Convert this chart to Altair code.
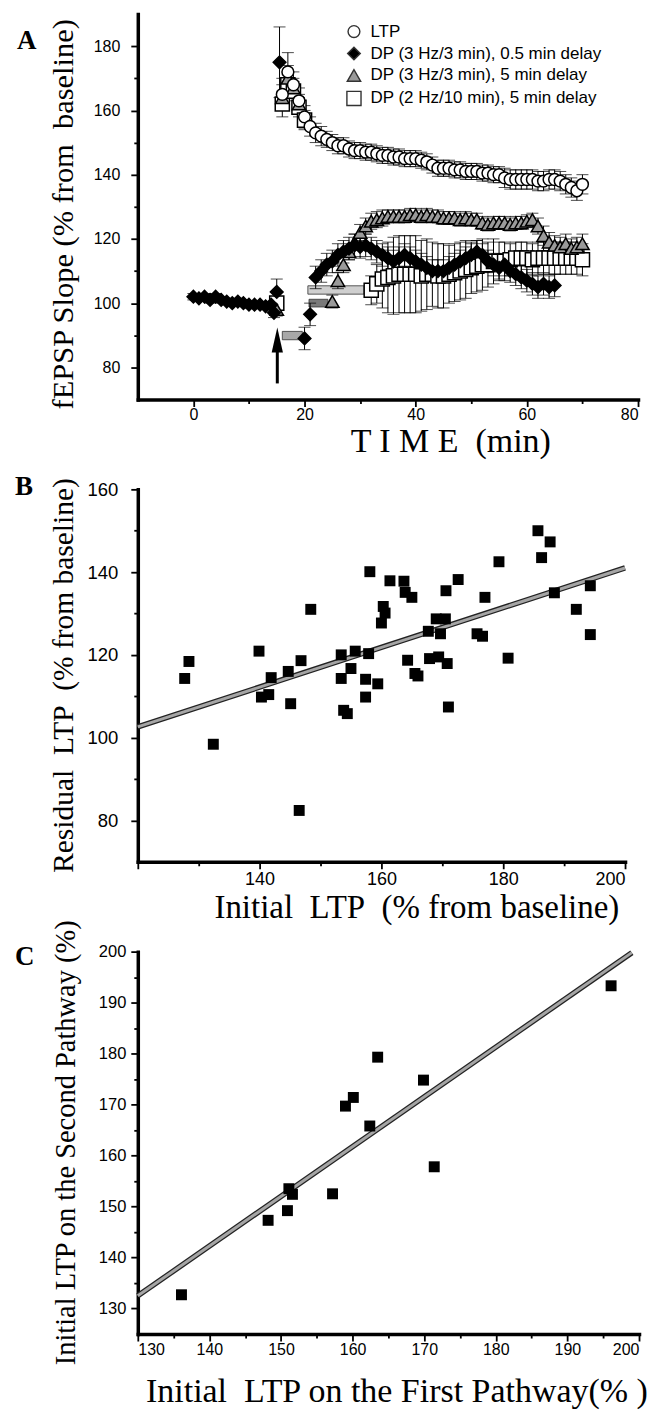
import altair as alt
import pandas as pd

# ---------------- Panel A data ----------------
SERIES = ["LTP", "DP (3 Hz/3 min), 0.5 min delay", "DP (3 Hz/3 min), 5 min delay", "DP (2 Hz/10 min), 5 min delay"]
SHAPES = ["circle", "diamond", "triangle-up", "square"]
FILLS = ["white", "black", "#9a9a9a", "white"]
SIZES = [140, 200, 150, 120]

LTP_T = list(range(16, 71))
LTP_V = [165, 172, 168, 163, 158, 155, 153, 152, 151, 150,
         149, 149, 148, 147.5, 147.5, 147, 147, 146.5, 146, 146,
         145.5, 145.5, 145, 145, 145, 144.5, 144, 143, 142, 142,
         142, 141.5, 141.5, 141, 141, 141, 140.5, 140.5, 140, 140,
         139, 138.5, 138.5, 138.5, 138.5, 138.5, 138, 138, 138.5, 138.5,
         138, 137, 136, 135, 137]
LTP_E = [5, 6, 4, 4, 3.5, 3, 3, 3, 2.5, 2.5,
         2.5, 2.5, 2.5, 2.5, 2.5, 2.5, 2.5, 2.5, 2.5, 2.5,
         2.5, 2.5, 2.5, 2.5, 2.5, 2.5, 2.5, 2.5, 2.5, 2.5,
         2.5, 2.5, 2.5, 2.5, 2.5, 2.5, 2.5, 2.5, 2.5, 2.5,
         3, 3, 3, 3, 3, 3, 3, 3, 3, 3,
         3, 3, 3, 3, 3]

DPA_T = [0, 1, 2, 3, 4, 5, 6, 7, 8, 9, 10, 11, 12, 13, 14, 14.5, 15, 15.5] + list(range(20, 66))
DPA_V = [102, 101.5, 102, 101, 102, 101, 100.5, 100, 100.5, 100, 99.5, 99.5, 99.5, 99, 99.5, 97, 103.5, 175,
         89, 96.5, 108, 110, 112, 113, 115, 116, 117, 118,
         117.5, 118, 117, 116, 115, 114, 113, 114, 115, 114,
         113, 112, 111, 110, 110, 110, 111, 112, 113, 114,
         115, 116, 115, 113, 112, 111, 112, 110, 109, 108,
         107, 106, 105, 106, 105, 105.5]
DPA_E = [1, 1, 1, 1, 1, 1, 1, 1, 1, 1, 1, 1, 1, 1, 1, 1.5, 4, 11,
         3.5, 3.5, 3.5, 3.5, 3.5, 3.5, 3.5, 3.5, 3.5, 3.5,
         3.5, 3.5, 3.5, 3.5, 3.5, 3.5, 3.5, 3.5, 3.5, 3.5,
         3.5, 3.5, 3.5, 3.5, 3.5, 3.5, 3.5, 3.5, 3.5, 3.5,
         3.5, 3.5, 3.5, 3.5, 3.5, 3.5, 3.5, 3.5, 3.5, 3.5,
         3.5, 3.5, 3.5, 3.5, 3.5, 3.5]

DPB_T = [15, 16, 17, 18, 19] + list(range(25, 71))
DPB_V = [98, 164, 170, 167, 162,
         100.5, 107, 112, 116, 119, 122, 124, 125.5, 126, 126.5,
         127, 127, 127, 127, 127.5, 127.5, 127, 127.5, 127, 127,
         126.5, 126.5, 126.5, 126, 126.5, 126, 126, 125, 124.5, 125,
         125, 125, 124.5, 125, 125, 125.5, 126, 124, 121, 119,
         118, 117.5, 118.5, 117, 117.5, 118.5]
DPB_E = [2, 4, 4, 3, 3,
         2, 2.5, 2.5, 2.5, 2.5, 2.5, 2.5, 2.5, 2.5, 2.5,
         2, 2, 2, 2, 2, 2, 2, 2, 2, 2,
         2, 2, 2, 2, 2, 2, 2, 2, 2, 2,
         2, 2, 2, 2, 2, 2, 2, 2.5, 3, 3,
         3, 3, 3, 3, 3, 3]

DPC_T = [15, 16, 17, 18, 19, 20] + list(range(32, 71))
DPC_V = [100, 162, 168, 166, 161, 157,
         104, 106, 107.5, 108, 108.5, 109, 109, 109, 109, 108.5,
         109, 109, 108.5, 108.5, 109, 109.5, 110, 110.5, 111, 111.5,
         112, 112, 113, 113, 113, 113.5, 114, 114, 114, 113.5,
         114, 114, 114, 114, 114, 114, 114, 114, 113.5]
DPC_E = [2, 4, 4, 3, 3, 3,
         4.5, 6, 9, 11, 12, 12, 12, 12, 12, 11,
         11, 10, 10, 10, 9, 9, 9, 9, 8, 8,
         8, 7, 7, 6, 6, 5, 5, 5, 5, 5,
         5, 5, 5, 5, 5, 5, 5, 5, 5]

# stimulation bars (start, end, low, high) and colours
BAR_T0 = [16, 20.8, 20.6]
BAR_T1 = [19.6, 24.2, 30.7]
BAR_LO = [88.6, 98.8, 102.8]
BAR_HI = [91.2, 101.2, 105.4]
BAR_FILL = ["#a8a8a8", "#7a7a7a", "#cfcfcf"]

# tetanus arrow
ARROW_T = [15.1]
ARROW_BOTTOM = [75]
ARROW_NECK = [86]
ARROW_HEAD = [88.5]

# ---------------- Panel B data ----------------
B_X = [127.7, 128.4, 132.4, 139.9, 140.3, 141.5, 141.9, 144.7, 145.1, 146.8,
       146.5, 148.4, 153.4, 153.4, 153.8, 154.4, 155.0, 155.7, 157.4, 157.4,
       157.9, 158.1, 159.4, 160.0, 160.3, 160.6, 161.4, 163.7, 163.9, 164.3,
       165.0, 165.5, 166.0, 167.7, 167.9, 169.0, 169.4, 169.7, 170.5, 170.6,
       170.8, 171.0, 172.6, 175.7, 176.6, 177.0, 179.3, 180.8, 185.7, 186.3,
       187.7, 188.4, 192.0, 194.3, 194.3]
B_Y = [114.3, 118.4, 98.4, 120.9, 109.8, 110.4, 114.5, 116.0, 108.2, 118.6,
       82.4, 131.0, 120.0, 114.3, 106.6, 105.8, 116.7, 120.9, 114.1, 109.8,
       120.3, 140.1, 113.0, 127.7, 131.7, 130.1, 137.9, 137.8, 135.1, 118.7,
       133.9, 115.5, 114.9, 125.7, 119.1, 128.7, 119.5, 125.1, 128.7, 135.5,
       117.9, 107.4, 138.2, 125.1, 124.5, 133.9, 142.5, 119.2, 150.0, 143.5,
       147.3, 135.0, 131.0, 136.7, 124.9]
B_FIT_X = [120, 200]
B_FIT_Y = [102.6, 141.0]

# ---------------- Panel C data ----------------
C_X = [136.1, 148.2, 150.9, 151.1, 151.6, 157.2, 159.0, 160.1, 162.4, 163.5, 169.9, 171.4, 196.1]
C_Y = [132.7, 147.3, 149.2, 153.5, 152.4, 152.5, 169.7, 171.4, 165.8, 179.3, 174.8, 157.8, 193.3]
C_FIT_X = [130, 199]
C_FIT_Y = [132.5, 199.8]

PANEL_LABELS = ["A", "B", "C"]
NB = "\u00a0"
TITLE_A_X = "T I M E" + NB + " (min)"
TITLE_A_Y = "fEPSP Slope (% from" + NB + " baseline)"
TITLE_B_X = "Initial" + NB + " LTP" + NB + " (% from baseline)"
TITLE_B_Y = "Residual" + NB + " LTP" + NB + " (% from baseline)"
TITLE_C_X = "Initial" + NB + " LTP on the First Pathway(%" + NB + ")"
TITLE_C_Y = "Initial LTP on the Second Pathway (%)"

SERIF = "Liberation Serif"
SANS = "Liberation Sans"


def ax(values, major, title, title_size, title_x, title_y, label_size=16, label_pad=3, extra="", left=False):
    test = "datum.value % " + str(major) + " === 0"
    lbl = test + (" && " + extra if extra else "")
    return alt.Axis(values=values, labelExpr="(" + lbl + ") ? datum.label : ''",
                    tickSize={"condition": {"test": test, "value": 7}, "value": 4},
                    title=title, titleFontSize=title_size, titleX=title_x, titleY=title_y,
                    titleAlign="center", titleBaseline="alphabetic",
                    titleAngle=270 if left else 0,
                    labelFontSize=label_size, labelPadding=label_pad)


def label_layer(text, x, y):
    return alt.Chart(pd.DataFrame({"label": [text]})).mark_text(
        font=SERIF, fontWeight="bold", fontSize=27, align="left", baseline="middle", color="black"
    ).encode(x=alt.value(x), y=alt.value(y), text="label:N")


# ---------------- Panel A ----------------
rows = []
for name, T, V, E in [(SERIES[3], DPC_T, DPC_V, DPC_E), (SERIES[2], DPB_T, DPB_V, DPB_E),
                      (SERIES[1], DPA_T, DPA_V, DPA_E), (SERIES[0], LTP_T, LTP_V, LTP_E)]:
    for t, v, e in zip(T, V, E):
        rows.append({"series": name, "t": t, "v": v, "lo": v - e, "hi": v + e})
dfA = pd.DataFrame(rows)
dfA["idx"] = range(len(dfA))
dfBars = pd.DataFrame({"t0": BAR_T0, "t1": BAR_T1, "lo": BAR_LO, "hi": BAR_HI, "fill": BAR_FILL})
dfArrow = pd.DataFrame({"t": ARROW_T, "b": ARROW_BOTTOM, "n": ARROW_NECK, "h": ARROW_HEAD})

AXA_X = ax(list(range(0, 81, 10)), 20, TITLE_A_X, 34, 313, 52, label_size=16, label_pad=0)
AXA_Y = ax(list(range(80, 181, 10)), 20, TITLE_A_Y, 30.5, -65, 200, label_size=16, label_pad=11, left=True)
XS_A = alt.Scale(domain=[-10, 80], nice=False, zero=False)
YS_A = alt.Scale(domain=[70, 190], nice=False, zero=False)


def XA(f):
    return alt.X(f, type="quantitative", scale=XS_A, axis=AXA_X)


def YA(f):
    return alt.Y(f, type="quantitative", scale=YS_A, axis=AXA_Y)


LEG = alt.Legend(orient="none", legendX=208, legendY=9, title=None,
                 labelFont=SANS, labelFontSize=17, labelColor="black", labelLimit=0,
                 symbolSize=150, symbolStrokeWidth=1.4, symbolStrokeColor="black",
                 rowPadding=3, labelOffset=8)

baseA = alt.Chart(dfA)
errA = baseA.mark_rule(color="black", strokeWidth=1).encode(x=XA("t"), y=YA("lo"), y2="hi:Q")
capLo = baseA.mark_tick(color="black", thickness=1, size=12, orient="horizontal").encode(x=XA("t"), y=YA("lo"))
capHi = baseA.mark_tick(color="black", thickness=1, size=12, orient="horizontal").encode(x=XA("t"), y=YA("hi"))
ptsA = baseA.mark_point(filled=True, opacity=1, strokeWidth=1.5).encode(
    x=XA("t"), y=YA("v"),
    shape=alt.Shape("series:N", scale=alt.Scale(domain=SERIES, range=SHAPES), legend=LEG),
    fill=alt.Fill("series:N", scale=alt.Scale(domain=SERIES, range=FILLS), legend=LEG),
    size=alt.Size("series:N", scale=alt.Scale(domain=SERIES, range=SIZES), legend=None),
    stroke=alt.value("black"),
    order=alt.Order("idx:Q"),
)
barsA = alt.Chart(dfBars).mark_rect(stroke="#333", strokeWidth=0.8).encode(
    x=XA("t0"), x2="t1:Q", y=YA("lo"), y2="hi:Q", fill=alt.Fill("fill:N", scale=None))
shaft = alt.Chart(dfArrow).mark_rule(color="black", strokeWidth=3).encode(x=XA("t"), y=YA("b"), y2="n:Q")
head = alt.Chart(dfArrow).mark_point(filled=True, color="black", opacity=1,
                                     shape="M0,-1L0.45,1L-0.45,1Z", size=625).encode(x=XA("t"), y=YA("h"))

panelA = alt.layer(barsA, errA, capLo, capHi, ptsA, shaft, head, label_layer(PANEL_LABELS[0], -121, 27)).properties(
    width=501, height=386)

# ---------------- Panel B ----------------
dfB = pd.DataFrame({"x": B_X, "y": B_Y})
dfBfit = pd.DataFrame({"x": B_FIT_X, "y": B_FIT_Y})
AXB_X = ax(list(range(120, 201, 10)), 20, TITLE_B_X, 33, 279, 56, label_size=18, label_pad=2,
           extra="datum.value > 120")
AXB_Y = ax(list(range(80, 161, 10)), 20, TITLE_B_Y, 29.5, -65, 186, label_size=18.5, label_pad=13, left=True)
XS_B = alt.Scale(domain=[120, 200], nice=False, zero=False)
YS_B = alt.Scale(domain=[70, 160], nice=False, zero=False)
fitB1 = alt.Chart(dfBfit).mark_line(color="#222", strokeWidth=5.5).encode(
    x=alt.X("x:Q", scale=XS_B, axis=AXB_X), y=alt.Y("y:Q", scale=YS_B, axis=AXB_Y))
fitB2 = alt.Chart(dfBfit).mark_line(color="#a5a5a5", strokeWidth=3).encode(
    x=alt.X("x:Q", scale=XS_B, axis=AXB_X), y=alt.Y("y:Q", scale=YS_B, axis=AXB_Y))
ptsB = alt.Chart(dfB).mark_point(shape="square", filled=True, color="black", opacity=1, size=120).encode(
    x=alt.X("x:Q", scale=XS_B, axis=AXB_X), y=alt.Y("y:Q", scale=YS_B, axis=AXB_Y))
panelB = alt.layer(fitB1, fitB2, ptsB, label_layer(PANEL_LABELS[1], -123, -2)).properties(width=488, height=373)

# ---------------- Panel C ----------------
dfC = pd.DataFrame({"x": C_X, "y": C_Y})
dfCfit = pd.DataFrame({"x": C_FIT_X, "y": C_FIT_Y})
AXC_X = ax(list(range(130, 201, 5)), 10, TITLE_C_X, 34, 259, 68, label_size=16, label_pad=1)
AXC_Y = ax(list(range(130, 201, 5)), 10, TITLE_C_Y, 28.5, -63, 191, label_size=16.5, label_pad=5, left=True)
XS_C = alt.Scale(domain=[130, 200], nice=False, zero=False)
YS_C = alt.Scale(domain=[125, 200], nice=False, zero=False)
fitC1 = alt.Chart(dfCfit).mark_line(color="#222", strokeWidth=5.5).encode(
    x=alt.X("x:Q", scale=XS_C, axis=AXC_X), y=alt.Y("y:Q", scale=YS_C, axis=AXC_Y))
fitC2 = alt.Chart(dfCfit).mark_line(color="#a5a5a5", strokeWidth=3).encode(
    x=alt.X("x:Q", scale=XS_C, axis=AXC_X), y=alt.Y("y:Q", scale=YS_C, axis=AXC_Y))
ptsC = alt.Chart(dfC).mark_point(shape="square", filled=True, color="black", opacity=1, size=120).encode(
    x=alt.X("x:Q", scale=XS_C, axis=AXC_X), y=alt.Y("y:Q", scale=YS_C, axis=AXC_Y))
panelC = alt.layer(fitC1, fitC2, ptsC, label_layer(PANEL_LABELS[2], -123, 5)).properties(width=502, height=383)

chart = alt.vconcat(panelA, panelB, panelC, spacing=90, bounds="flush").properties(
    padding={"left": 7, "top": 5, "right": 2, "bottom": 2}
).configure_view(stroke=None).configure_axis(
    grid=False, domainColor="black", domainWidth=3.5, tickColor="black", tickWidth=1.8,
    labelFont=SANS, labelColor="black", titleFont=SERIF, titleFontWeight="normal", titleColor="black",
    domainCap="square"
)

chart.save("out.html", embed_options={"renderer": "svg", "actions": False})
